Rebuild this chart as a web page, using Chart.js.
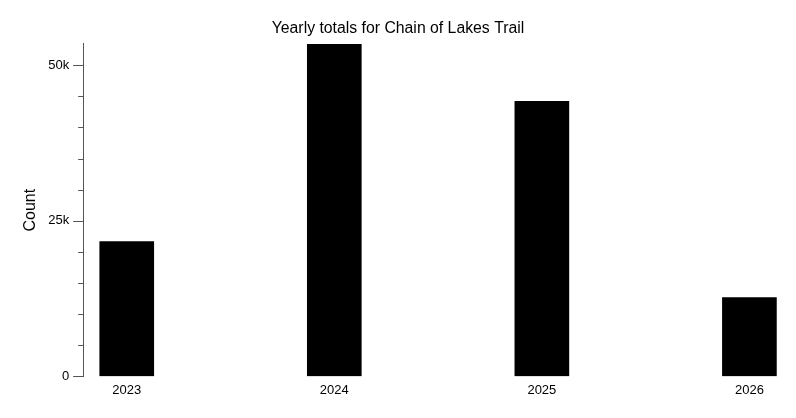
<!DOCTYPE html>
<html>
<head>
<meta charset="utf-8">
<script src="https://cdn.jsdelivr.net/npm/chart.js@4.4.1/dist/chart.umd.min.js"></script>
<style>
  html, body { margin: 0; padding: 0; background: #fff; }
  #wrap { width: 796px; height: 418px; }
</style>
</head>
<body>
<div id="wrap"><canvas id="yearlyChart"></canvas></div>
<script>
// values
const years = [2023, 2024, 2025, 2026];
const counts = [21650, 53400, 44200, 12650];
const yTickValues = [0, 5000, 10000, 15000, 20000, 25000, 30000, 35000, 40000, 45000, 50000];
const yTickLabels = ['0', '', '', '', '', '25k', '', '', '', '', '50k'];

const FONT = "'Liberation Sans', Arial, sans-serif";
const AXIS_COLOR = '#555';

// draws the short minor ticks and the longer labelled ones on the y axis
const yTickMarks = {
    id: 'yTickMarks',
    afterDraw(chart) {
        const scale = chart.scales.y;
        const ctx = chart.ctx;
        ctx.save();
        ctx.strokeStyle = AXIS_COLOR;
        ctx.lineWidth = 1;
        scale.ticks.forEach((tick, i) => {
            const y = Math.round(scale.getPixelForValue(tick.value)) + 0.5;
            const len = yTickLabels[i] ? 10 : 5;
            ctx.beginPath();
            ctx.moveTo(scale.right - len, y);
            ctx.lineTo(scale.right, y);
            ctx.stroke();
        });
        ctx.restore();
    }
};

const ctx = document.getElementById('yearlyChart').getContext('2d');

new Chart(ctx, {
    type: 'bar',
    data: {
        datasets: [{
            label: 'Count',
            data: years.map((yr, i) => ({ x: yr, y: counts[i] })),
            backgroundColor: '#000',
            borderWidth: 0,
            barThickness: 54
        }]
    },
    options: {
        responsive: true,
        maintainAspectRatio: false,
        animation: false,
        layout: {
            padding: { left: 3, right: 3, top: 15, bottom: 14 }
        },
        plugins: {
            legend: { display: false },
            tooltip: { enabled: false },
            title: {
                display: true,
                text: 'Yearly totals for Chain of Lakes Trail',
                color: '#000',
                font: { family: FONT, size: 15.8, weight: 'normal' },
                padding: { top: 4, bottom: 6 }
            }
        },
        scales: {
            x: {
                type: 'linear',
                offset: false,
                min: 2022.79,
                max: 2026.21,
                grid: { display: false, drawTicks: false },
                border: { display: false },
                afterBuildTicks: scale => {
                    scale.ticks = years.map(v => ({ value: v }));
                },
                ticks: {
                    color: '#000',
                    padding: 6,
                    font: { family: FONT, size: 13 },
                    callback: v => String(v)
                }
            },
            y: {
                min: 0,
                max: Math.max(...counts),
                grid: {
                    display: true,
                    drawOnChartArea: false,
                    tickLength: 10,
                    tickColor: 'transparent'
                },
                border: { display: true, color: AXIS_COLOR, width: 1 },
                afterBuildTicks: scale => {
                    scale.ticks = yTickValues.map(v => ({ value: v }));
                },
                ticks: {
                    color: '#000',
                    padding: 4,
                    font: { family: FONT, size: 13 },
                    callback: (v, i) => yTickLabels[i]
                },
                title: {
                    display: true,
                    text: 'Count',
                    color: '#000',
                    font: { family: FONT, size: 16 },
                    padding: { top: 18, bottom: 4 }
                }
            }
        }
    },
    plugins: [yTickMarks]
});
</script>
</body>
</html>
